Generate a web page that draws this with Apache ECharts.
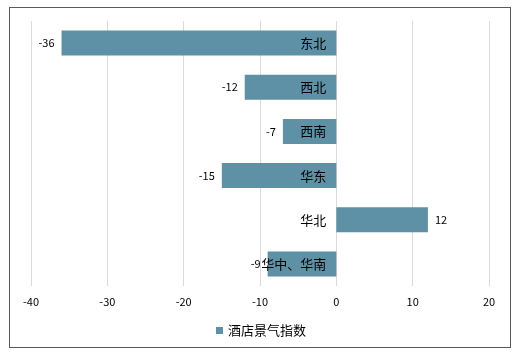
<!DOCTYPE html>
<html>
<head>
<meta charset="utf-8">
<script src="https://cdn.jsdelivr.net/npm/echarts@6/dist/echarts.min.js"></script>
<style>
body { margin: 0; background: #fff; }
#frame { position: absolute; left: 9px; top: 7px; width: 500px; height: 339px; border: 1px solid #595959; }
#chart { position: absolute; left: 0; top: 0; width: 522px; height: 353px; }
</style>
</head>
<body>
<div id="frame"></div>
<div id="chart"></div>
<script>
var regions = ['东北', '西北', '西南', '华东', '华北', '华中、华南']
var values = [-36, -12, -7, -15, 12, -9]
var seriesName = '酒店景气指数'
var xMin = -40
var xMax = 20

var myChart = echarts.init(document.getElementById('chart'))
var font = '"Noto Sans CJK SC", "Microsoft YaHei", sans-serif'

// grid geometry, used to park the category labels on the zero line
var gridLeft = 31, gridRight = 33
var plotW = 522 - gridLeft - gridRight
var zeroOffset = -plotW * (0 - xMin) / (xMax - xMin)

var option = {
    animation: false,
    grid: { left: gridLeft, right: gridRight, top: 21, bottom: 67, containLabel: false, outerBoundsMode: 'none' },
    legend: {
        data: [seriesName],
        top: 319,
        left: 'center',
        icon: 'rect',
        itemWidth: 7,
        itemHeight: 7,
        itemGap: 4,
        textStyle: { color: '#000', fontSize: 13, fontFamily: font }
    },
    xAxis: {
        type: 'value',
        min: xMin,
        max: xMax,
        interval: 10,
        axisLine: { show: false },
        axisTick: { show: false },
        axisLabel: { color: '#000', fontSize: 11, fontFamily: font, margin: 10 },
        splitLine: { lineStyle: { color: '#d9d9d9' } }
    },
    yAxis: {
        type: 'category',
        data: regions,
        inverse: true,
        offset: zeroOffset,
        axisLine: { show: false, onZero: false },
        axisTick: { show: false },
        axisLabel: { color: '#000', fontSize: 13, fontFamily: font, margin: 10 },
        z: 10
    },
    series: [{
        name: seriesName,
        type: 'bar',
        data: values.map(function (v) {
            return { value: v, label: { position: v < 0 ? 'left' : 'right' } }
        }),
        barWidth: 25,
        itemStyle: { color: '#5e91a6' },
        label: {
            show: true,
            distance: 7,
            color: '#000',
            fontSize: 11,
            fontFamily: font
        }
    }]
}
myChart.setOption(option)
</script>
</body>
</html>
